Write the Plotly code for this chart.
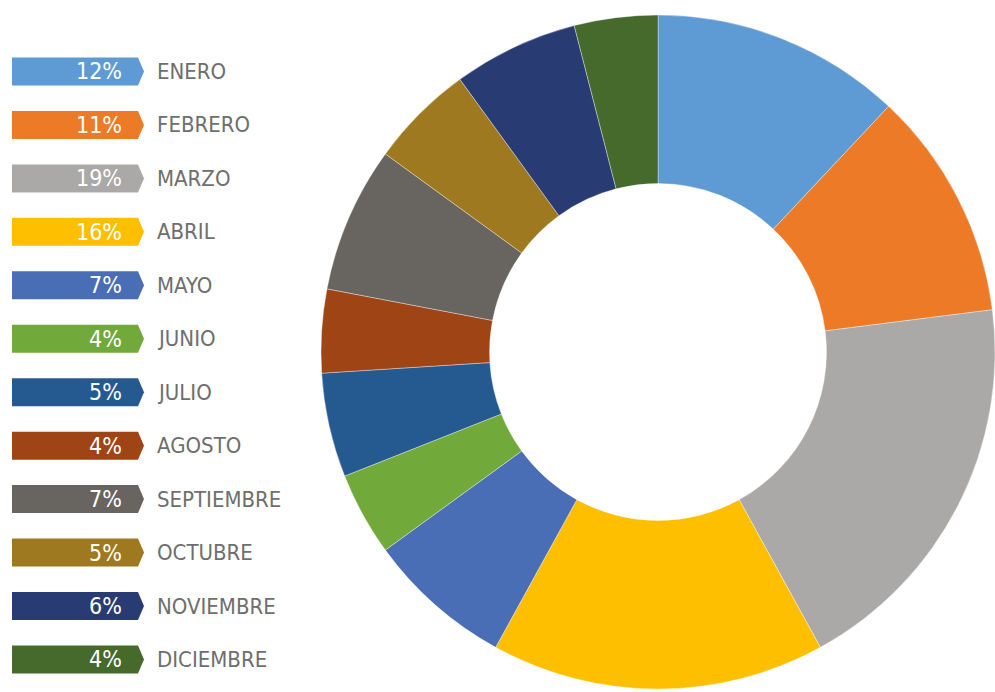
import plotly.graph_objects as go

# Monthly share (%) of the annual total
months = ["ENERO", "FEBRERO", "MARZO", "ABRIL", "MAYO", "JUNIO",
          "JULIO", "AGOSTO", "SEPTIEMBRE", "OCTUBRE", "NOVIEMBRE", "DICIEMBRE"]
shares = [12, 11, 19, 16, 7, 4, 5, 4, 7, 5, 6, 4]
colors = ["#5E9BD4", "#EC7A26", "#AAA9A7", "#FDBF00", "#4A6EB5", "#71A93A",
          "#255A91", "#9E4415", "#686561", "#9E7920", "#283C73", "#466A2C"]

W, H = 995, 692
FONT = "Liberation Sans Narrow, DejaVu Sans Condensed, Arial Narrow, sans-serif"

fig = go.Figure()
fig.add_trace(go.Pie(
    labels=months,
    values=shares,
    marker=dict(colors=colors, line=dict(color="rgba(255,255,255,0.6)", width=0.6)),
    hole=0.5,
    sort=False,
    direction="clockwise",
    rotation=0,
    textinfo="none",
    hoverinfo="label+percent",
    showlegend=False,
    domain=dict(x=[321 / W, 1], y=[3 / H, 677 / H]),
))

# Arrow-tag legend on the left
def px(x):
    return x / W

def py(y):
    return 1 - y / H

shapes, annotations = [], []
x0, x1, tip = 12, 138, 144
half = 14
row0, step = 71.5, 53.45
for i, (m, s, c) in enumerate(zip(months, shares, colors)):
    yc = row0 + i * step
    path = (f"M {px(x0)},{py(yc - half)} L {px(x1)},{py(yc - half)} "
            f"L {px(tip)},{py(yc)} L {px(x1)},{py(yc + half)} "
            f"L {px(x0)},{py(yc + half)} Z")
    shapes.append(dict(type="path", xref="paper", yref="paper", path=path,
                       fillcolor=c, line=dict(width=0)))
    annotations.append(dict(xref="paper", yref="paper", x=px(124), y=py(yc),
                            xanchor="right", yanchor="middle", showarrow=False,
                            text=f"{s}%", font=dict(family=FONT, size=23, color="white")))
    annotations.append(dict(xref="paper", yref="paper", x=px(155), y=py(yc),
                            xanchor="left", yanchor="middle", showarrow=False,
                            text=m, font=dict(family=FONT, size=22, color="#6E6E6E")))

fig.update_layout(
    width=W, height=H,
    margin=dict(l=0, r=0, t=0, b=0),
    paper_bgcolor="white",
    plot_bgcolor="white",
    shapes=shapes,
    annotations=annotations,
)

fig.write_html("out.html")
